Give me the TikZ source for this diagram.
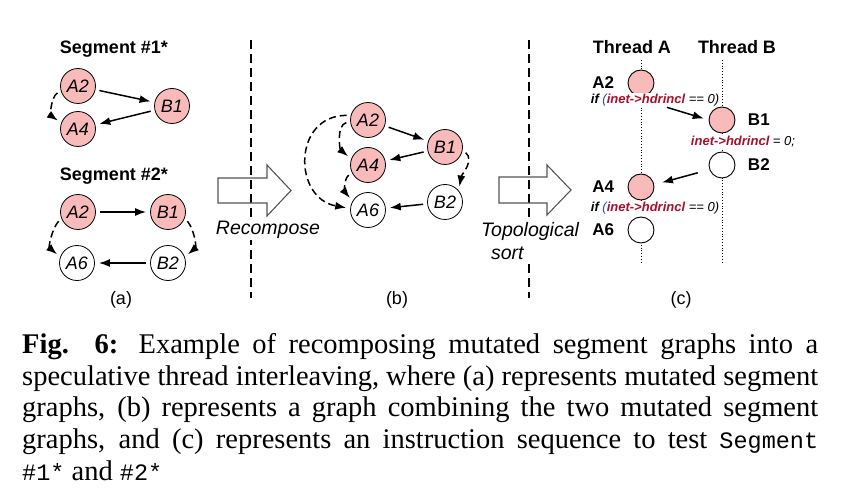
\documentclass[tikz,border=0pt]{standalone}
\usepackage{fontspec}
\setmainfont{Liberation Serif}
\setsansfont{Liberation Sans}
\setmonofont{Liberation Mono}
\usetikzlibrary{arrows.meta,positioning}
\definecolor{nodepink}{HTML}{F9BABA}
\definecolor{codered}{HTML}{A8102A}
\definecolor{codeblue}{HTML}{2B4BAF}
\definecolor{arrowgray}{HTML}{555555}
\tikzset{ev/.style={circle, draw, line width=.8pt, minimum size=35pt, inner sep=0pt, font=\fontsize{18}{20}\sffamily\itshape}, mut/.style={ev, fill=nodepink}, orig/.style={ev, fill=white}, tev/.style={circle, draw, line width=.9pt, minimum size=26pt, inner sep=0pt}, dep/.style={-{Latex[length=11pt,width=8pt]}, line width=1.5pt, shorten >=4pt, shorten <=4pt}, ddep/.style={dep, dash pattern=on 7pt off 4pt}, divider/.style={line width=1.4pt, dash pattern=on 9pt off 5pt}, thr/.style={line width=.8pt, dotted}, bigarr/.style={draw=arrowgray, line width=1.1pt}, hd/.style={font=\fontsize{18}{20}\sffamily\bfseries}, lab/.style={font=\fontsize{18}{20}\sffamily}, stepname/.style={font=\fontsize{19.5}{23}\sffamily\itshape, fill=white, inner sep=1pt}, tlab/.style={font=\fontsize{17}{20}\sffamily\bfseries}, code/.style={font=\fontsize{13}{15}\sffamily\itshape, fill=white, inner sep=.5pt}}
\newcommand{\hdrfield}{\textcolor{codered}{\textbf{inet->hdrincl}}}

\begin{document}
\begin{tikzpicture}[x=1pt,y=-1pt]
\useasboundingbox (0,0) rectangle (852,497);
% (a) mutated segment graphs
\node[hd] (seg1) at (114,49) {Segment \#1*};
\node[mut] (a1A2) at (78,86) {A2};
\node[mut] (a1B1) at (172,106) {B1};
\node[mut] (a1A4) at (78,129) {A4};
\draw[dep] (a1A2) -- (a1B1);
\draw[dep] (a1B1) -- (a1A4);
\draw[ddep] (a1A2.195) to[out=215,in=145] (a1A4.160);
\node[hd] (seg2) at (114,176) {Segment \#2*};
\node[mut] (a2A2) at (78,212) {A2};
\node[mut] (a2B1) at (168,212) {B1};
\node[orig] (a2A6) at (77,263) {A6};
\node[orig] (a2B2) at (168,263) {B2};
\draw[dep] (a2A2) -- (a2B1);
\draw[dep] (a2B2) -- (a2A6);
\draw[ddep] (a2A2.200) to[out=230,in=140] (a2A6.160);
\draw[ddep] (a2B1.-20) to[out=-50,in=40] (a2B2.20);
\node[lab] (capa) at (121,300) {(a)};
% recompose
\coordinate (d1t) at (251,40); \coordinate (d1b) at (251,298);
\draw[divider] (d1t) -- (d1b);
\draw[bigarr] (218,178) -- (267,178) -- (267,165) -- (291,190.5) -- (267,216) -- (267,203) -- (218,203) -- cycle;
\node[stepname] (recomp) at (268,230) {Recompose};
% (b) combined graph
\node[mut] (bA2) at (368,120) {A2};
\node[mut] (bB1) at (445,147) {B1};
\node[mut] (bA4) at (368,165) {A4};
\node[orig] (bA6) at (368,210) {A6};
\node[orig] (bB2) at (445,202) {B2};
\draw[dep] (bA2) -- (bB1);
\draw[dep] (bB1) -- (bA4);
\draw[dep] (bB2) -- (bA6);
\draw[ddep] (bA2.185) to[out=195,in=140] (bA4.160);
\draw[ddep] (bA2.165) to[out=180,in=170,looseness=1.6] (bA6.175);
\draw[ddep] (bA4.205) to[out=220,in=130] (bA6.150);
\draw[ddep] (bB1.-10) to[out=-40,in=80] (bB2.40);
\node[lab] (capb) at (397,300) {(b)};
% topological sort
\coordinate (d2t) at (529,40); \coordinate (d2b) at (529,298);
\draw[divider] (d2t) -- (d2b);
\draw[bigarr] (499,177) -- (547,177) -- (547,165) -- (571,190) -- (547,215) -- (547,203) -- (499,203) -- cycle;
\node[stepname, align=left] (topo) at (530,241) {Topological\\\hspace*{10pt}sort};
% (c) thread interleaving
\node[hd] (thA) at (632,47) {Thread A};
\node[hd] (thB) at (737,47) {Thread B};
\coordinate (tAt) at (641,60); \coordinate (tAb) at (641,263);
\coordinate (tBt) at (722,60); \coordinate (tBb) at (722,263);
\draw[thr] (tAt) -- (tAb);
\draw[thr] (tBt) -- (tBb);
\node[tev, fill=nodepink] (cA2) at (641,83) {};
\node[tev, fill=nodepink] (cB1) at (722,120) {};
\node[tev, fill=white] (cB2) at (722,165) {};
\node[tev, fill=nodepink] (cA4) at (641,187) {};
\node[tev, fill=white] (cA6) at (641,230) {};
\node[tlab, left=10pt of cA2] (lA2) {A2};
\node[tlab, right=9pt of cB1] (lB1) {B1};
\node[tlab, right=9pt of cB2] (lB2) {B2};
\node[tlab, left=10pt of cA4] (lA4) {A4};
\node[tlab, left=10pt of cA6] (lA6) {A6};
\node[code] (ifA2) at (655,100) {\textbf{if} \textcolor{codeblue}{(}\hdrfield{} == 0)};
\node[code] (setB1) at (743,142) {\hdrfield{} = 0;};
\node[code] (ifA4) at (655,208) {\textbf{if} \textcolor{codeblue}{(}\hdrfield{} == 0)};
\draw[dep, shorten <=2pt, shorten >=5pt] ([xshift=10pt]ifA2.south) -- (cB1.west);
\draw[dep, shorten <=12pt, shorten >=8pt] (cB2.200) -- (cA4.10);
\node[lab] (capc) at (681,300) {(c)};
% caption
\node[anchor=north west, text width=796pt, align=justify, inner sep=0pt, font=\fontsize{28.5}{31.75}\selectfont] (caption) at (22,333) {\textbf{Fig. 6:} Example of recomposing mutated segment graphs into a\linebreak speculative thread interleaving, where (a) represents mutated segment\linebreak graphs, (b) represents a graph combining the two mutated segment\linebreak graphs, and (c) represents an instruction sequence to test {\fontsize{23.5}{31.75}\ttfamily Segment}\linebreak {\fontsize{23.5}{31.75}\ttfamily \#1*} and {\fontsize{23.5}{31.75}\ttfamily \#2*}};
\end{tikzpicture}
\end{document}
